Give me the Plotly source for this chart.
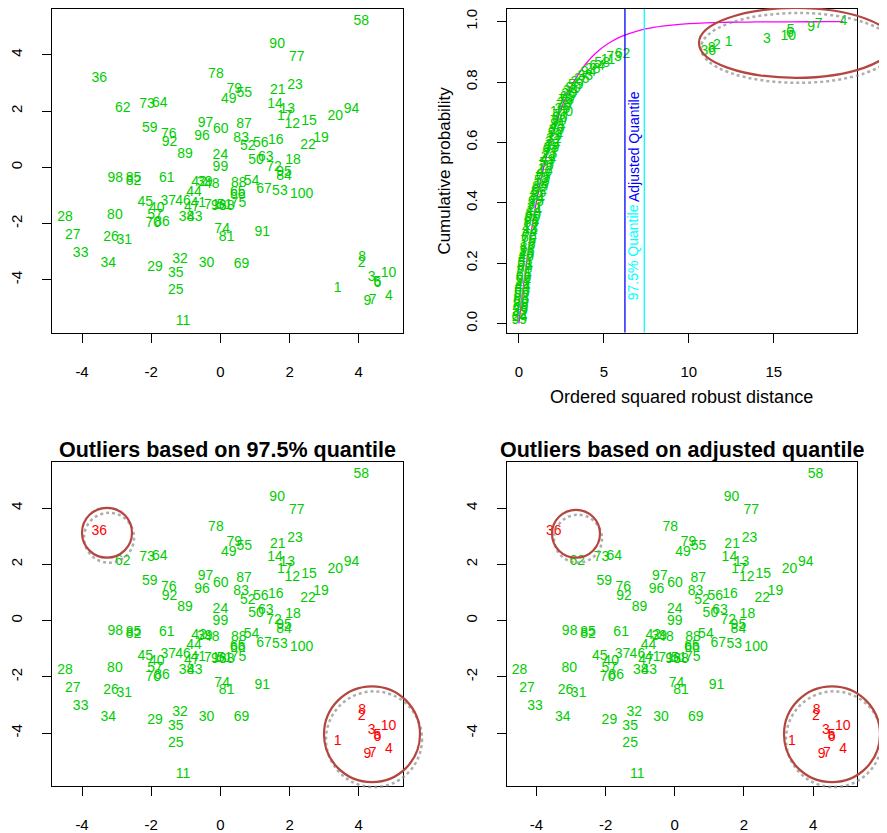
import plotly.graph_objects as go

# ---------------- data ----------------
ids = list(range(1, 101))
xs = [3.39, 4.08, 4.37, 4.87, 4.54, 4.54, 4.40, 4.10, 4.25, 4.86,
      -1.08, 2.08, 1.93, 1.58, 2.56, 1.60, 1.86, 2.10, 2.91, 3.32,
      1.66, 2.53, 2.16, 0.00, -1.29, -3.16, -4.27, -4.49, -1.89, -0.40,
      -2.78, -1.17, -4.04, -3.24, -1.29, -3.50, -1.51, -0.98, -0.45, -1.84,
      -0.64, -0.62, -0.74, -0.76, -2.17, -1.08, -0.83, -0.25, 0.24, 1.03,
      0.12, 0.79, 1.72, 0.90, 0.69, 1.17, -1.89, 4.07, -2.04, 0.01,
      -1.55, -2.82, 1.31, -1.75, 0.50, 0.50, 1.26, 0.18, 0.61, -1.94,
      -0.25, 1.55, -2.12, 0.05, 0.52, -1.49, 2.21, -0.13, 0.40, -3.05,
      0.18, -2.51, 0.60, 1.84, -2.51, -1.69, 0.68, 0.53, -1.02, 1.64,
      1.21, -1.47, -0.05, 3.79, 1.84, -0.53, -0.43, -3.04, 0.00, 2.35]
ys = [-4.29, -3.40, -3.92, -4.59, -4.08, -4.14, -4.73, -3.21, -4.76, -3.78,
      -5.47, 1.54, 2.05, 2.25, 1.62, 0.94, 1.80, 0.23, 1.03, 1.80,
      2.72, 0.77, 2.92, 0.41, -4.37, -2.48, -2.43, -1.79, -3.55, -3.43,
      -2.60, -3.27, -3.07, -3.43, -3.78, 3.17, -1.21, -1.79, -0.55, -1.45,
      -1.30, -0.52, -1.79, -0.89, -1.26, -1.21, -1.42, -0.60, 2.43, 0.26,
      -1.36, 0.73, -0.86, -0.51, 2.64, 0.85, -1.71, 5.18, 1.40, 1.33,
      -0.41, 2.09, 0.35, 2.28, -0.91, -1.00, -0.80, -1.38, -3.46, -2.01,
      -1.36, 0.00, 2.25, -2.22, -1.30, 1.18, 3.91, 3.31, 2.78, -1.71,
      -2.50, -0.50, 1.03, -0.32, -0.41, -1.97, 1.51, -0.59, 0.47, 4.38,
      -2.30, 0.87, -1.38, 2.07, -0.18, 1.09, 1.57, -0.38, -0.02, -0.97]

outliers = [1, 2, 3, 4, 5, 6, 7, 8, 9, 10, 36]

# ordered squared robust distances and the observation at each rank
d2_sorted = [0.02, 0.03, 0.05, 0.06, 0.08, 0.10, 0.12, 0.13, 0.15, 0.17,
             0.19, 0.21, 0.23, 0.25, 0.27, 0.29, 0.31, 0.33, 0.36, 0.38,
             0.40, 0.42, 0.45, 0.47, 0.50, 0.52, 0.55, 0.58, 0.61, 0.64,
             0.67, 0.70, 0.73, 0.76, 0.80, 0.84, 0.88, 0.92, 0.96, 1.00,
             1.05, 1.10, 1.15, 1.20, 1.25, 1.30, 1.35, 1.40, 1.45, 1.50,
             1.55, 1.60, 1.65, 1.70, 1.75, 1.80, 1.85, 1.90, 1.95, 2.00,
             2.05, 2.10, 2.15, 2.20, 2.25, 2.30, 2.35, 2.40, 2.45, 2.50,
             2.55, 2.62, 2.70, 2.78, 2.86, 2.95, 3.05, 3.20, 3.35, 3.50,
             3.70, 3.90, 4.10, 4.35, 4.60, 4.90, 5.25, 5.60, 6.10,
             11.15, 11.35, 11.65, 12.35, 14.60, 15.85, 15.95, 16.00, 17.20, 17.65, 19.10]
rank_ids = [99, 24, 42, 39, 48, 88, 50, 83, 52, 56,
            63, 44, 41, 54, 66, 65, 71, 68, 93, 51,
            47, 46, 43, 38, 87, 16, 75, 60, 72, 84,
            13, 17, 89, 61, 96, 86, 14, 21, 37, 95,
            74, 81, 55, 82, 85, 18, 53, 79, 67, 40,
            12, 70, 57, 49, 22, 23, 97, 98, 15, 32,
            31, 19, 92, 26, 45, 91, 30, 80, 77, 100,
            35, 76, 29, 78, 69, 20, 34, 90, 59, 27,
            25, 33, 94, 28, 64, 58, 11, 73, 62,
            36, 8, 2, 1, 3, 10, 6, 5, 9, 7, 4]
cum_prob = [(i + 1) / 100 for i in range(100)]

# chi-square (2 df) reference curve
chi_x = [0, 0.05, 0.1, 0.2, 0.3, 0.5, 0.75, 1, 1.25, 1.5, 1.75, 2, 2.5, 3, 3.5, 4,
         4.5, 5, 5.5, 6, 7, 8, 9, 10, 11, 12, 13, 14, 15, 16, 17, 18, 19.1]
chi_y = [0, 0.02469, 0.04877, 0.09516, 0.13929, 0.22120, 0.31271, 0.39347, 0.46474,
         0.52763, 0.58314, 0.63212, 0.71350, 0.77687, 0.82623, 0.86466, 0.89460,
         0.91792, 0.93607, 0.95021, 0.96980, 0.98168, 0.98889, 0.99326, 0.99591,
         0.99752, 0.99850, 0.99909, 0.99945, 0.99966, 0.99980, 0.99988, 0.99993]

q975 = 7.38
q_adj = 6.24

# ---------------- figure ----------------
OFF = 8                      # page body margin
W, H = 887 - OFF, 833 - OFF
GREEN = "#00CD00"
RED = "#FF0000"
FONT = "Liberation Sans, Arial, sans-serif"
LBL = 14


def px(x):
    return (x - OFF) / W


def py(y):
    return 1 - (y - OFF) / H


fig = go.Figure()

fig.add_trace(go.Scatter(x=xs, y=ys, text=[str(i) for i in ids], mode="text",
                         textfont=dict(color=GREEN, size=LBL, family=FONT),
                         xaxis="x", yaxis="y", showlegend=False, hoverinfo="skip"))

fig.add_trace(go.Scatter(x=chi_x, y=chi_y, mode="lines", line=dict(color="#FF00FF", width=1.3, shape="spline"),
                         xaxis="x2", yaxis="y2", showlegend=False, hoverinfo="skip"))
fig.add_trace(go.Scatter(x=d2_sorted, y=cum_prob, text=[str(i) for i in rank_ids], mode="text",
                         textfont=dict(color=GREEN, size=LBL, family=FONT),
                         xaxis="x2", yaxis="y2", showlegend=False, hoverinfo="skip"))

cols = [RED if i in outliers else GREEN for i in ids]
for xa, ya in (("x3", "y3"), ("x4", "y4")):
    fig.add_trace(go.Scatter(x=xs, y=ys, text=[str(i) for i in ids], mode="text",
                             textfont=dict(color=cols, size=LBL, family=FONT),
                             xaxis=xa, yaxis=ya, showlegend=False, hoverinfo="skip"))

left_dom = [px(52.3), px(402.7)]
right_dom = [px(506.7), px(857.0)]
top_dom = [py(332.3), py(8)]
bot_dom = [py(786.6), py(462.3)]

common = dict(showgrid=False, zeroline=False, showline=True, mirror=True, linecolor="black",
              linewidth=1, ticks="outside", ticklen=9, tickcolor="black", tickwidth=1,
              tickfont=dict(size=15, family=FONT, color="black"))
xsc = dict(range=[-4.86, 5.27], tickvals=[-4, -2, 0, 2, 4], ticktext=["-4", "-2", "0", "2", "4"],
           ticklabelstandoff=16, **common)
ysc = dict(range=[-5.87, 5.63], tickvals=[-4, -2, 0, 2, 4], ticktext=["-4", "-2", "0", "2", "4"],
           tickangle=-90, ticklabelstandoff=14, **common)

fig.update_layout(
    width=W, height=H, margin=dict(l=0, r=0, t=0, b=0),
    paper_bgcolor="white", plot_bgcolor="white",
    font=dict(family=FONT, color="black"),
    xaxis=dict(domain=left_dom, anchor="y", **xsc),
    yaxis=dict(domain=top_dom, anchor="x", **ysc),
    xaxis2=dict(domain=right_dom, anchor="y2", range=[-0.72, 19.9], tickvals=[0, 5, 10, 15],
                ticklabelstandoff=16, **common),
    yaxis2=dict(domain=top_dom, anchor="x2", range=[-0.03, 1.042],
                tickvals=[0, 0.2, 0.4, 0.6, 0.8, 1.0], ticktext=["0.0", "0.2", "0.4", "0.6", "0.8", "1.0"],
                tickangle=-90, ticklabelstandoff=14, **common),
    xaxis3=dict(domain=left_dom, anchor="y3", **xsc),
    yaxis3=dict(domain=bot_dom, anchor="x3", **ysc),
    xaxis4=dict(domain=right_dom, anchor="y4", **xsc),
    yaxis4=dict(domain=bot_dom, anchor="x4", **ysc),
)

shapes = [
    dict(type="line", xref="x2", yref="y2 domain", x0=q_adj, x1=q_adj, y0=0, y1=1,
         line=dict(color="#0000FF", width=1.3)),
    dict(type="line", xref="x2", yref="y2 domain", x0=q975, x1=q975, y0=0, y1=1,
         line=dict(color="#00FFFF", width=1.3)),
]


def ring(cx, cy, rx, ry):
    sh = dict(type="circle", xref="paper", yref="paper", x0=px(cx - rx + 2), x1=px(cx + rx + 2),
              y0=py(cy + ry + 5), y1=py(cy - ry + 5),
              line=dict(color="rgba(140,140,140,0.7)", width=2.5, dash="dot"))
    mn = dict(type="circle", xref="paper", yref="paper", x0=px(cx - rx), x1=px(cx + rx),
              y0=py(cy + ry), y1=py(cy - ry), line=dict(color="#B5463F", width=2.2))
    return [sh, mn]


shapes += ring(796, 42, 97, 35)
shapes += ring(107, 533, 25, 25)
shapes += ring(576, 534, 24, 24)
shapes += ring(372, 735, 48, 48)
shapes += ring(832, 735, 48, 48)
fig.update_layout(shapes=shapes)


def note(text, x, y, size, color="black", angle=0, xref="paper", yref="paper"):
    return dict(text=text, xref=xref, yref=yref, x=x, y=y, textangle=angle, showarrow=False,
                xanchor="center", yanchor="middle", font=dict(size=size, family=FONT, color=color))


annotations = [
    note("Cumulative probability", px(445), py(170), 17, angle=-90),
    note("Ordered squared robust distance", px(681), py(397), 18),
    note("<b>Outliers based on 97.5% quantile</b>", px(227.5), py(450), 21.5),
    note("<b>Outliers based on adjusted quantile</b>", px(681.5), py(450), 21.5),
    note("Adjusted Quantile", 6.78, 0.585, 14, color="#0000FF", angle=-90, xref="x2", yref="y2"),
    note("97.5% Quantile", 6.70, 0.235, 14, color="#00FFFF", angle=-90, xref="x2", yref="y2"),
]
fig.update_layout(annotations=annotations)

fig.write_html("out.html")
